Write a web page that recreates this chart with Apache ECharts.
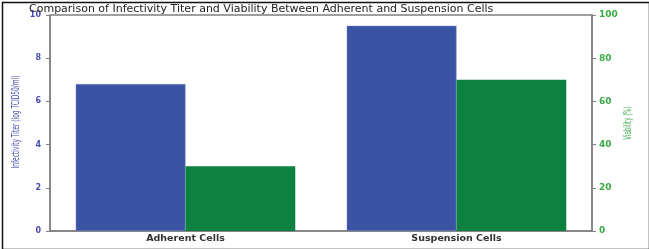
<!DOCTYPE html>
<html><head><meta charset="utf-8">
<script src="https://cdn.jsdelivr.net/npm/echarts@6/dist/echarts.min.js"></script>
<style>html,body{margin:0;padding:0;background:#fff}#c{width:649px;height:249px}</style>
</head><body><div id="c"></div>
<script>
const categories = ['Adherent Cells', 'Suspension Cells'];
const titerValues = [6.8, 9.5];
const viabilityValues = [30, 70];
const titerTicks = {min: 0, max: 10, interval: 2};
const viabilityTicks = {min: 0, max: 100, interval: 20};
const leftAxisName = 'Infectivity Titer (log TCID50/ml)';
const rightAxisName = 'Viability (%)';

const chart = echarts.init(document.getElementById('c'), null, {renderer: 'canvas'});
const axisGrey = '#808080';
const nameFont = "'DejaVu Sans Condensed','DejaVu Sans',sans-serif";
chart.setOption({
  animation: false,
  backgroundColor: '#fff',
  title: {
    text: 'Comparison of Infectivity Titer and Viability Between Adherent and Suspension Cells',
    left: 24, top: -1,
    textStyle: {fontFamily: 'DejaVu Sans', fontSize: 11, fontWeight: 'normal', color: '#222'}
  },
  graphic: [{
    type: 'rect', left: 0, top: 0, z: 100, silent: true,
    shape: {x: 0.75, y: 0.75, width: 647, height: 247},
    style: {fill: 'none', stroke: '#111', lineWidth: 1.5}
  }, {
    type: 'text', x: 16, y: 122, rotation: Math.PI / 2, scaleX: 0.6, scaleY: 1, silent: true,
    style: {text: leftAxisName, font: '11px ' + nameFont, fill: '#4a4ab0', align: 'center', verticalAlign: 'middle'}
  }, {
    type: 'text', x: 628, y: 123, rotation: Math.PI / 2, scaleX: 0.56, scaleY: 1, silent: true,
    style: {text: rightAxisName, font: '11px ' + nameFont, fill: '#3aaa44', align: 'center', verticalAlign: 'middle'}
  }],
  grid: {left: 50, right: 57, top: 15, bottom: 18, show: true, borderColor: axisGrey, borderWidth: 1.5},
  xAxis: {
    type: 'category', data: categories,
    axisLine: {lineStyle: {color: axisGrey, width: 1.5}},
    axisTick: {alignWithLabel: true, length: 3, lineStyle: {color: axisGrey}},
    axisLabel: {fontFamily: 'DejaVu Sans', fontSize: 9.5, fontWeight: 'bold', color: '#333', margin: 3}
  },
  yAxis: [{
    type: 'value', ...titerTicks, position: 'left',
    axisLine: {show: true, lineStyle: {color: axisGrey, width: 1.5}},
    axisTick: {show: true, length: 4, lineStyle: {color: axisGrey}},
    axisLabel: {fontFamily: 'DejaVu Sans', fontSize: 8, fontWeight: 'bold', color: '#4a4ab0', margin: 9},
    splitLine: {show: false}
  }, {
    type: 'value', ...viabilityTicks, position: 'right',
    axisLine: {show: true, lineStyle: {color: axisGrey, width: 1.5}},
    axisTick: {show: true, length: 4, lineStyle: {color: axisGrey}},
    axisLabel: {fontFamily: 'DejaVu Sans', fontSize: 9, fontWeight: 'bold', color: '#3aaa44', margin: 7},
    splitLine: {show: false}
  }],
  series: [{
    type: 'bar', name: 'Infectivity Titer', yAxisIndex: 0, data: titerValues,
    barGap: '0%', barCategoryGap: '19%',
    itemStyle: {color: '#3a53a5', borderColor: '#7f88c4', borderWidth: 0.5}
  }, {
    type: 'bar', name: 'Viability', yAxisIndex: 1, data: viabilityValues,
    barGap: '0%', barCategoryGap: '19%',
    itemStyle: {color: '#0d8140'}
  }]
});
</script></body></html>
